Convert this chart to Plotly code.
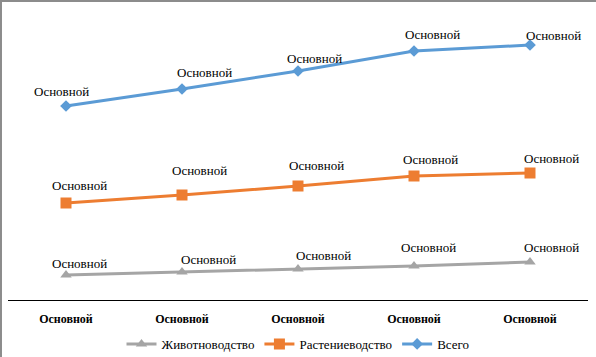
import plotly.graph_objects as go

categories = ["Основной", "Основной", "Основной", "Основной", "Основной"]
label_text = "Основной"
series_names = ["Животноводство", "Растениеводство", "Всего"]
livestock = [25, 28, 31, 34, 38]
crops = [97, 105, 114, 124, 127]
total = [194, 211, 229, 249, 255]

# styling
FONT = "Liberation Serif"
colors = ["#A5A5A5", "#ED7D31", "#5B9BD5"]
symbols = ["triangle-up", "square", "diamond"]
msizes = [10, 11, 9]
label_offsets = [
    [(13, 12), (26, 13), (25, 14), (14, 19), (21, 15)],
    [(13, 18), (17, 25), (18, 21), (16, 17), (21, 15)],
    [(-5, 15), (22, 17), (16, 13), (18, 17), (23, 10)],
]

xs = list(range(len(categories)))
fig = go.Figure()
annotations = []
for name, vals, c, s, ms, offs in zip(series_names, [livestock, crops, total], colors, symbols, msizes, label_offsets):
    fig.add_trace(go.Scatter(x=xs, y=vals, name=name, mode="lines+markers",
                             line=dict(color=c, width=3),
                             marker=dict(symbol=s, size=ms, color=c)))
    for xi, v, (dx, dy) in zip(xs, vals, offs):
        annotations.append(dict(x=xi, y=v, xref="x", yref="y", text=label_text,
                                showarrow=False, xshift=dx, yshift=dy,
                                font=dict(family=FONT, size=13, color="black")))

fig.update_layout(
    width=596, height=357,
    margin=dict(l=8, r=8, t=20, b=57, autoexpand=False),
    paper_bgcolor="white", plot_bgcolor="white",
    font=dict(family=FONT, size=12, color="black"),
    showlegend=True,
    legend=dict(orientation="h", x=0.5, xanchor="center", y=-0.157, yanchor="middle",
                font=dict(family=FONT, size=13), itemwidth=30,
                traceorder="normal"),
    annotations=annotations,
    shapes=[dict(type="rect", xref="paper", yref="paper", x0=-0.0121, x1=1.2,
                 y0=-0.5, y1=1.0679, line=dict(color="#8c8c8c", width=2))],
)
fig.update_xaxes(range=[-0.5, 4.5], tickvals=xs, automargin=False,
                 ticktext=["<b>" + c + "</b>" for c in categories],
                 showline=True, linecolor="black", linewidth=1, showgrid=False,
                 zeroline=False, ticks="", ticklabelstandoff=8,
                 tickfont=dict(family=FONT, size=12))
fig.update_yaxes(range=[0, 280], visible=False, showgrid=False, automargin=False)
fig.write_html("out.html", config={"displayModeBar": False},
               post_script="document.body.style.margin='0';")
